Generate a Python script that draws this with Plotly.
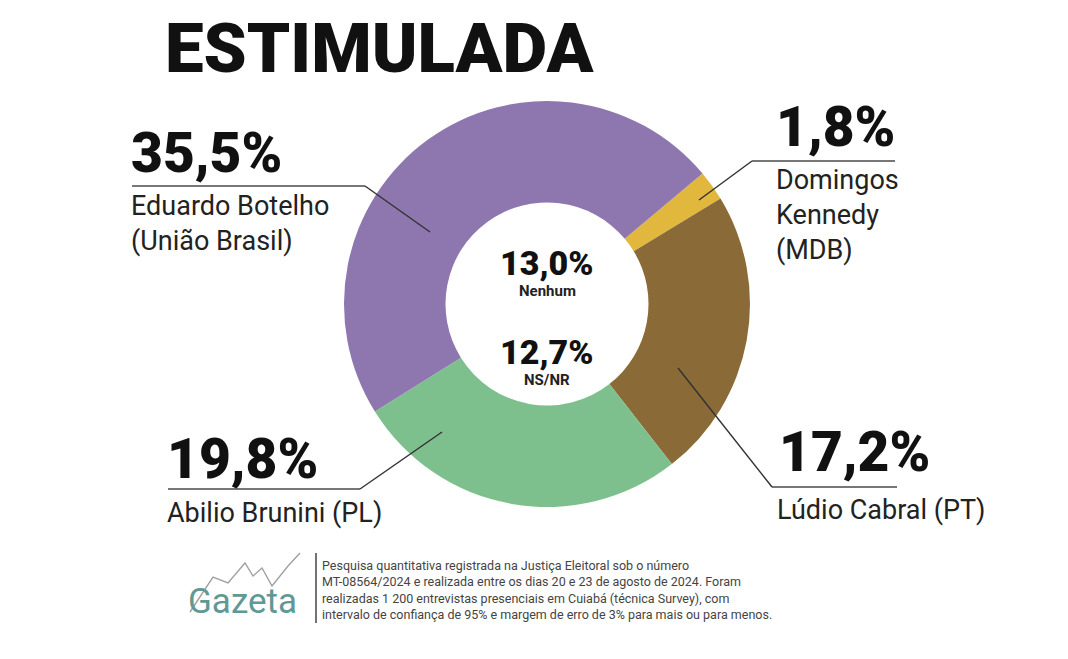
import plotly.graph_objects as go

W, H = 1068, 659

# dados da pesquisa (estimulada)
candidatos = ["Domingos Kennedy", "Lúdio Cabral", "Abilio Brunini", "Eduardo Botelho"]
partidos = ["MDB", "PT", "PL", "União Brasil"]
percentuais = [1.8, 17.2, 19.8, 35.5]
cores = ["#E2B73E", "#8A6A37", "#7DC08D", "#8D77AE"]

outros = ["Nenhum", "NS/NR"]
outros_pct = [13.0, 12.7]

rotulos = [
    "Domingos<br>Kennedy<br>(MDB)",
    "Lúdio Cabral (PT)",
    "Abilio Brunini (PL)",
    "Eduardo Botelho<br>(União Brasil)",
]

nota = (
    "Pesquisa quantitativa registrada na Justiça Eleitoral sob o número<br>"
    "MT-08564/2024 e realizada entre os dias 20 e 23 de agosto de 2024. Foram<br>"
    "realizadas 1 200 entrevistas presenciais em Cuiabá (técnica Survey), com<br>"
    "intervalo de confiança de 95% e margem de erro de 3% para mais ou para menos."
)

# a página tem 8px de margem no body; compensar
OFF = 8


def px(x):
    return (x - OFF) / W


def py(y):
    return 1 - (y - OFF) / H


def fmt(v):
    return f"{v:.1f}".replace(".", ",") + "%"


FONT = "Roboto"
cx, cy, R = 547, 304, 203

fig = go.Figure()
fig.add_trace(go.Pie(
    labels=candidatos,
    values=percentuais,
    marker=dict(colors=cores, line=dict(width=0)),
    hole=0.5,
    sort=False,
    direction="clockwise",
    rotation=50,
    textinfo="none",
    hoverinfo="label+text",
    hovertext=[fmt(v) for v in percentuais],
    domain=dict(x=[px(cx - R), px(cx + R)], y=[py(cy + R), py(cy - R)]),
    showlegend=False,
))

# posições dos rótulos (pct, nome, linha horizontal, ponta da linha)
layout_rotulos = [
    dict(pct=(774, 127), nome=(774, 215), hline=(752, 895, 161), ponta=(699, 200)),
    dict(pct=(777, 452), nome=(775, 510), hline=(772, 897, 487), ponta=(678, 368)),
    dict(pct=(165, 459), nome=(165, 513), hline=(168, 360, 489), ponta=(442, 432)),
    dict(pct=(129, 153), nome=(129, 223), hline=(132, 365, 186), ponta=(430, 232)),
]

annotations = []
shapes = []
for i, pos in enumerate(layout_rotulos):
    annotations.append(dict(
        x=px(pos["pct"][0]), y=py(pos["pct"][1]), xref="paper", yref="paper",
        text=fmt(percentuais[i]), showarrow=False,
        xanchor="left", yanchor="middle",
        font=dict(family=FONT, size=55, color="#111111", weight=900),
    ))
    annotations.append(dict(
        x=px(pos["nome"][0]), y=py(pos["nome"][1]), xref="paper", yref="paper",
        text=rotulos[i], showarrow=False, align="left",
        xanchor="left", yanchor="middle", font=dict(family=FONT, size=27, color="#222222"),
    ))
    x0, x1, yh = pos["hline"]
    shapes.append(dict(type="line", xref="paper", yref="paper",
                       x0=px(x0), x1=px(x1), y0=py(yh), y1=py(yh),
                       line=dict(color="#777777", width=2)))
    # ligação da linha horizontal até a fatia
    xs = x0 if i in (0, 1) else x1
    shapes.append(dict(type="line", xref="paper", yref="paper",
                       x0=px(xs), x1=px(pos["ponta"][0]), y0=py(yh), y1=py(pos["ponta"][1]),
                       line=dict(color="#333333", width=1.5)))

# centro: nenhum e ns/nr
for v, nome, yv in zip(outros_pct, outros, [263, 352]):
    annotations.append(dict(
        x=px(cx), y=py(yv), xref="paper", yref="paper", text=fmt(v),
        showarrow=False, xanchor="center", yanchor="middle",
        font=dict(family=FONT, size=34, color="#111111", weight=900),
    ))
    annotations.append(dict(
        x=px(cx), y=py(yv + 28), xref="paper", yref="paper", text=f"<b>{nome}</b>",
        showarrow=False, xanchor="center", yanchor="middle",
        font=dict(family=FONT, size=15, color="#222222"),
    ))

# título
annotations.append(dict(
    x=px(163), y=py(48), xref="paper", yref="paper", text="ESTIMULADA",
    showarrow=False, xanchor="left", yanchor="middle",
    font=dict(family=FONT, size=69, color="#111111", weight=900),
))

# rodapé: logo + nota
annotations.append(dict(
    x=px(186), y=py(601), xref="paper", yref="paper", text="Gazeta",
    showarrow=False, xanchor="left", yanchor="middle",
    font=dict(family=FONT, size=35, color="#5F9894"),
))
shapes.append(dict(
    type="path", xref="paper", yref="paper",
    path="M {} {} L {} {} L {} {} L {} {} L {} {} L {} {} L {} {} L {} {} L {} {}".format(
        px(190), py(612), px(213), py(577), px(228), py(583), px(245), py(563),
        px(253), py(576), px(262), py(568), px(272), py(586), px(288), py(566),
        px(300), py(553)),
    line=dict(color="#A0A0A0", width=1.4),
))
shapes.append(dict(type="line", xref="paper", yref="paper",
                   x0=px(316), x1=px(316), y0=py(553), y1=py(623),
                   line=dict(color="#444444", width=1.5)))
annotations.append(dict(
    x=px(320), y=py(590), xref="paper", yref="paper", text=nota,
    showarrow=False, xanchor="left", yanchor="middle", align="left",
    font=dict(family=FONT, size=12.5, color="#444444"),
))

fig.update_layout(
    width=W, height=H,
    margin=dict(l=0, r=0, t=0, b=0),
    paper_bgcolor="white", plot_bgcolor="white",
    annotations=annotations, shapes=shapes,
)

fig.write_html("out.html")
